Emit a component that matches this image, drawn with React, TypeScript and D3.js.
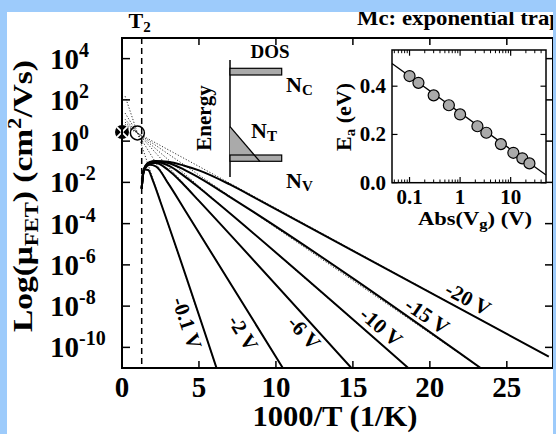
import React from 'react';
import * as d3 from 'd3';

const W = 556, H = 434;
const xTicks = [0, 5, 10, 15, 20, 25];
const yTicks = [-10, -8, -6, -4, -2, 0, 2, 4];
const gateLabels = ['-0.1 V', '-2 V', '-6 V', '-10 V', '-15 V', '-20 V'];

// solid curves: [1000/T, log10(mu)]
const curveV01 = [[1.28, -2.3], [1.36, -1.7], [1.5, -1.38], [1.7, -1.4], [2.0, -1.9], [2.5, -2.95], [6.14, -11]];
const curveV2 = [[1.28, -2.3], [1.36, -1.65], [1.5, -1.32], [1.8, -1.15], [2.2, -1.22], [3, -2.05], [4, -3.24], [10.45, -11]];
const curveV6 = [[1.28, -2.3], [1.36, -1.62], [1.5, -1.28], [1.8, -1.1], [2.2, -1.06], [3, -1.4], [4, -2.1], [5, -2.9], [14.9, -11]];
const curveV10 = [[1.28, -2.3], [1.36, -1.6], [1.5, -1.26], [1.8, -1.06], [2.2, -1.01], [3, -1.18], [4, -1.67], [5, -2.25], [6, -2.87], [18.6, -11]];
const curveV15 = [[1.28, -2.3], [1.36, -1.6], [1.5, -1.24], [1.8, -1.03], [2.2, -0.98], [3, -1.06], [4, -1.37], [5, -1.77], [7, -2.7], [23.3, -11]];
const curveV20 = [[1.28, -2.3], [1.36, -1.58], [1.5, -1.22], [1.8, -1.01], [2.2, -0.96], [3, -1.0], [4, -1.18], [5, -1.42], [7, -2.1], [9, -2.9], [27.73, -10.45]];
const curves = [curveV01, curveV2, curveV6, curveV10, curveV15, curveV20];

// dotted extrapolations (start values at 1000/T = 0.2)
const dotStartX = 0.2;
const dotStartY = [2.18, 1.36, 1.06, 0.92, 0.81, 0.72];

const labelX = [4.22, 7.86, 11.83, 16.83, 19.82, 22.48];
const labelY = [-8.82, -9.3, -9.3, -9.01, -8.48, -7.65];

const t2 = 1.28;
const mu0 = [0, 0.44];
const crossPt = [1.0, 0.4];

// inset
const vgPts = [0.1, 0.15, 0.3, 0.6, 1, 2.2, 3.3, 6.4, 11.3, 17, 23.5];
const eaPts = [0.442, 0.414, 0.362, 0.321, 0.283, 0.234, 0.207, 0.16, 0.124, 0.101, 0.08];
const fitVg = [0.045, 50];
const fitEa = [0.494, 0.032];
const insetXTicks = [0.1, 1, 10];
const insetYTicks = [0, 0.2, 0.4];

const FONT = '"Liberation Serif", "Times New Roman", serif';

export default function App() {
  const x = d3.scaleLinear().domain([0, 28]).range([122, 553]);
  const y = d3.scaleLinear().domain([-11, 5]).range([368, 38]);
  const line = d3.line<number[]>().x(d => x(d[0])).y(d => y(d[1])).curve(d3.curveMonotoneX);

  const ix = d3.scaleLog().domain([0.045, 50]).range([392, 546]);
  const iy = d3.scaleLinear().domain([0, 0.55]).range([182.7, 50]);
  const minor: number[] = [];
  [0.01, 0.1, 1, 10].forEach(d => { for (let k = 2; k <= 9; k++) { const v = d * k; if (v > 0.045 && v < 50) minor.push(v); } });

  return (
    <svg width={W} height={H} style={{ position: 'absolute', left: 0, top: 0 }} fontFamily={FONT} fontWeight="bold">
      <defs>
        <clipPath id="panel"><rect x={7} y={12} width={546} height={422} /></clipPath>
        <clipPath id="plot"><rect x={122} y={38} width={431} height={330} /></clipPath>
      </defs>
      <rect x={0} y={0} width={W} height={H} fill="#9DCBFB" />
      <g clipPath="url(#panel)">
        <rect x={7} y={12} width={546} height={422} fill="#fff" />
        <text x={357} y={25} fontSize={21} textLength={205} lengthAdjust="spacingAndGlyphs">Mc: exponential trap</text>

        {/* dashed T2 */}
        <line x1={x(t2)} x2={x(t2)} y1={38} y2={368} stroke="#000" strokeWidth={1.5} strokeDasharray="6,4" />
        <text x={x(t2) - 2} y={28} fontSize={22} textAnchor="middle">T<tspan fontSize={15} dy={4}>2</tspan></text>

        <g clipPath="url(#plot)">
          {curves.map((c, i) => (
            <line key={'d' + i} x1={x(dotStartX)} y1={y(dotStartY[i])} x2={x(c[c.length - 1][0])} y2={y(c[c.length - 1][1])}
              stroke="#333" strokeWidth={1} strokeDasharray="1.2,1.8" />
          ))}
          {curves.map((c, i) => (
            <path key={'c' + i} d={line(c) || ''} fill="none" stroke="#000" strokeWidth={2} />
          ))}
        </g>

        {/* markers */}
        <circle cx={x(crossPt[0])} cy={y(crossPt[1])} r={7} fill="none" stroke="#000" strokeWidth={1.5} />
        <circle cx={x(mu0[0])} cy={y(mu0[1])} r={7} fill="#000" />
        <path d={`M${x(mu0[0]) - 5},${y(mu0[1]) - 5}L${x(mu0[0]) + 5},${y(mu0[1]) + 5}M${x(mu0[0]) - 5},${y(mu0[1]) + 5}L${x(mu0[0]) + 5},${y(mu0[1]) - 5}`} stroke="#fff" strokeWidth={1.8} />

        {/* curve labels */}
        {curves.map((c, i) => {
          const a = c[c.length - 2], b = c[c.length - 1];
          const ang = Math.atan2(y(b[1]) - y(a[1]), x(b[0]) - x(a[0])) * 180 / Math.PI;
          return (
            <text key={'l' + i} x={x(labelX[i])} y={y(labelY[i])} fontSize={21} textAnchor="middle" dominantBaseline="central"
              transform={`rotate(${ang},${x(labelX[i])},${y(labelY[i])})`}>{gateLabels[i]}</text>
          );
        })}

        {/* frame */}
        <rect x={122} y={38} width={431} height={330} fill="none" stroke="#000" strokeWidth={2} />
        {xTicks.map(t => (
          <g key={'xt' + t}>
            <line x1={x(t)} x2={x(t)} y1={368} y2={361} stroke="#000" strokeWidth={1.5} />
            <line x1={x(t)} x2={x(t)} y1={38} y2={45} stroke="#000" strokeWidth={1.5} />
            <text x={x(t)} y={397} fontSize={29} textAnchor="middle">{t}</text>
          </g>
        ))}
        {yTicks.map(t => (
          <g key={'yt' + t}>
            <line x1={122} x2={130} y1={y(t)} y2={y(t)} stroke="#000" strokeWidth={1.5} />
            <line x1={553} x2={545} y1={y(t)} y2={y(t)} stroke="#000" strokeWidth={1.5} />
            <text x={50} y={y(t) + 10} fontSize={29}>10<tspan fontSize={20} dy={-12}>{t}</tspan></text>
          </g>
        ))}
        <text transform="translate(32,196) rotate(-90)" fontSize={28} textAnchor="middle" textLength={272} lengthAdjust="spacingAndGlyphs">
          Log(μ<tspan fontSize={19} dy={6}>FET</tspan><tspan dy={-6}>) (cm</tspan><tspan fontSize={19} dy={-11}>2</tspan><tspan dy={11}>/Vs)</tspan>
        </text>
        <text x={335} y={426} fontSize={29} textAnchor="middle" textLength={165} lengthAdjust="spacingAndGlyphs">1000/T (1/K)</text>

        {/* DOS schematic */}
        <text x={270} y={58} fontSize={19} textAnchor="middle">DOS</text>
        <text transform="translate(211,118) rotate(-90)" fontSize={21} textAnchor="middle">Energy</text>
        <line x1={230} x2={230} y1={60} y2={177} stroke="#000" strokeWidth={1.5} />
        <path d="M230,126.7L230,155L254,155Z" fill="#aaa" stroke="none" />
        <rect x={230} y={68.3} width={51.7} height={6.7} fill="#aaa" stroke="#000" strokeWidth={1.2} />
        <rect x={230} y={155} width={51.7} height={6.3} fill="#aaa" stroke="#000" strokeWidth={1.2} />
        <line x1={230} y1={126.7} x2={260} y2={161.7} stroke="#000" strokeWidth={1.3} />
        <text x={286} y={92} fontSize={22}>N<tspan fontSize={15} dy={3}>C</tspan></text>
        <text x={251} y={138} fontSize={22}>N<tspan fontSize={15} dy={3}>T</tspan></text>
        <text x={286} y={188} fontSize={22}>N<tspan fontSize={15} dy={3}>V</tspan></text>

        {/* inset */}
        <rect x={392} y={50} width={154} height={132.7} fill="#fff" stroke="#000" strokeWidth={1.5} />
        {minor.map(v => (
          <g key={'mn' + v}>
            <line x1={ix(v)} x2={ix(v)} y1={182.7} y2={179.5} stroke="#000" strokeWidth={1} />
            <line x1={ix(v)} x2={ix(v)} y1={50} y2={53.2} stroke="#000" strokeWidth={1} />
          </g>
        ))}
        {insetXTicks.map(t => (
          <g key={'ix' + t}>
            <line x1={ix(t)} x2={ix(t)} y1={182.7} y2={177} stroke="#000" strokeWidth={1.2} />
            <line x1={ix(t)} x2={ix(t)} y1={50} y2={55.7} stroke="#000" strokeWidth={1.2} />
            <text x={ix(t)} y={204} fontSize={21} textAnchor="middle">{String(t)}</text>
          </g>
        ))}
        {insetYTicks.map(t => (
          <g key={'iy' + t}>
            <line x1={392} x2={397.5} y1={iy(t)} y2={iy(t)} stroke="#000" strokeWidth={1.2} />
            <line x1={546} x2={540.5} y1={iy(t)} y2={iy(t)} stroke="#000" strokeWidth={1.2} />
            <text x={386} y={iy(t) + 7} fontSize={21} textAnchor="end">{t.toFixed(1)}</text>
          </g>
        ))}
        <line x1={ix(fitVg[0])} y1={iy(fitEa[0])} x2={ix(fitVg[1])} y2={iy(fitEa[1])} stroke="#000" strokeWidth={1.3} />
        {vgPts.map((v, i) => (
          <circle key={'p' + i} cx={ix(v)} cy={iy(eaPts[i])} r={5.5} fill="#aaa" stroke="#000" strokeWidth={1.2} />
        ))}
        <text transform="translate(351,117) rotate(-90)" fontSize={22} textAnchor="middle">E<tspan fontSize={15} dy={4}>a</tspan><tspan dy={-4}> (eV)</tspan></text>
        <text x={475} y={225} fontSize={19} textAnchor="middle" textLength={114} lengthAdjust="spacingAndGlyphs">Abs(V<tspan fontSize={14} dy={4}>g</tspan><tspan dy={-4}>) (V)</tspan></text>
      </g>
    </svg>
  );
}
